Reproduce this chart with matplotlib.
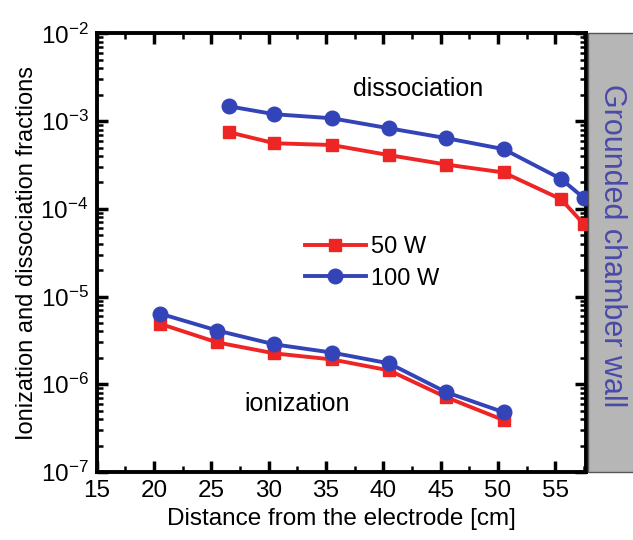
import numpy as np
import matplotlib
matplotlib.use("Agg")
import matplotlib.pyplot as plt
import matplotlib as mpl
from matplotlib.patches import Rectangle
from matplotlib.ticker import MultipleLocator, LogLocator, NullFormatter

plt.rcParams["font.family"] = ["Liberation Sans", "DejaVu Sans"]
mpl.rcParams['mathtext.fontset'] = 'custom'
mpl.rcParams['mathtext.rm'] = 'Liberation Sans'
mpl.rcParams['mathtext.it'] = 'Liberation Sans'
mpl.rcParams['xtick.direction'] = 'in'
mpl.rcParams['ytick.direction'] = 'in'
mpl.rcParams['axes.unicode_minus'] = False

# data
dist_diss = [26.5, 30.5, 35.5, 40.5, 45.5, 50.5, 55.5, 57.5]
diss_50w = [7.5e-4, 5.6e-4, 5.35e-4, 4.1e-4, 3.2e-4, 2.6e-4, 1.29e-4, 6.7e-5]
diss_100w = [1.48e-3, 1.2e-3, 1.08e-3, 8.3e-4, 6.4e-4, 4.8e-4, 2.2e-4, 1.33e-4]

dist_ion = [20.5, 25.5, 30.5, 35.5, 40.5, 45.5, 50.5]
ion_50w = [4.9e-6, 3.0e-6, 2.25e-6, 1.92e-6, 1.44e-6, 7.1e-7, 3.9e-7]
ion_100w = [6.4e-6, 4.1e-6, 2.85e-6, 2.3e-6, 1.73e-6, 8.1e-7, 4.8e-7]

red = '#ee2525'
blue = '#3344b8'

fig = plt.figure(figsize=(6.33, 5.4), dpi=100)
ax = fig.add_axes([0.153, 0.126, 0.773, 0.812])

# grounded wall band
fig.patches.append(Rectangle((0.929, 0.126), 0.075, 0.812, transform=fig.transFigure,
                             facecolor='#b6b6b6', edgecolor='#555555', lw=1, zorder=0))
fig.text(0.967, 0.546, 'Grounded chamber wall', rotation=-90, ha='center', va='center',
         fontsize=22, color='#4a4aa8')

ax.plot(dist_diss, diss_50w, '-s', color=red, lw=2.8, ms=9, label='50 W', clip_on=False, zorder=3)
ax.plot(dist_diss, diss_100w, '-o', color=blue, lw=2.8, ms=10.5, label='100 W', clip_on=False, zorder=3)
ax.plot(dist_ion, ion_50w, '-s', color=red, lw=2.8, ms=9, zorder=3)
ax.plot(dist_ion, ion_100w, '-o', color=blue, lw=2.8, ms=10.5, zorder=3)

ax.set_yscale('log')
ax.set_xlim(15, 57.7)
ax.set_ylim(1e-7, 1e-2)
ax.xaxis.set_major_locator(MultipleLocator(5))
ax.xaxis.set_minor_locator(MultipleLocator(2.5))
ax.yaxis.set_major_locator(LogLocator(base=10, numticks=10))
ax.yaxis.set_minor_locator(LogLocator(base=10, subs=np.arange(2, 10), numticks=20))
ax.yaxis.set_minor_formatter(NullFormatter())

ax.xaxis.set_ticks_position('both')
ax.yaxis.set_ticks_position('both')
ax.tick_params(which='major', length=8, width=2.5, labelsize=17.5, pad=6)
ax.tick_params(which='minor', length=4.5, width=1.8)
for s in ax.spines.values():
    s.set_linewidth(2.8)

ax.set_xlabel('Distance from the electrode [cm]', fontsize=17.5, labelpad=4)
ax.set_ylabel('Ionization and dissociation fractions', fontsize=17, labelpad=2)

ax.text(0.657, 0.873, 'dissociation', transform=ax.transAxes, ha='center', va='center', fontsize=18)
ax.text(0.41, 0.155, 'ionization', transform=ax.transAxes, ha='center', va='center', fontsize=18)

ax.legend(loc='upper left', bbox_to_anchor=(0.425, 0.538), frameon=False, fontsize=17,
          borderpad=0, borderaxespad=0, handlelength=2.6, handletextpad=0.2, labelspacing=0.4)

plt.savefig('out.png', dpi=100)
